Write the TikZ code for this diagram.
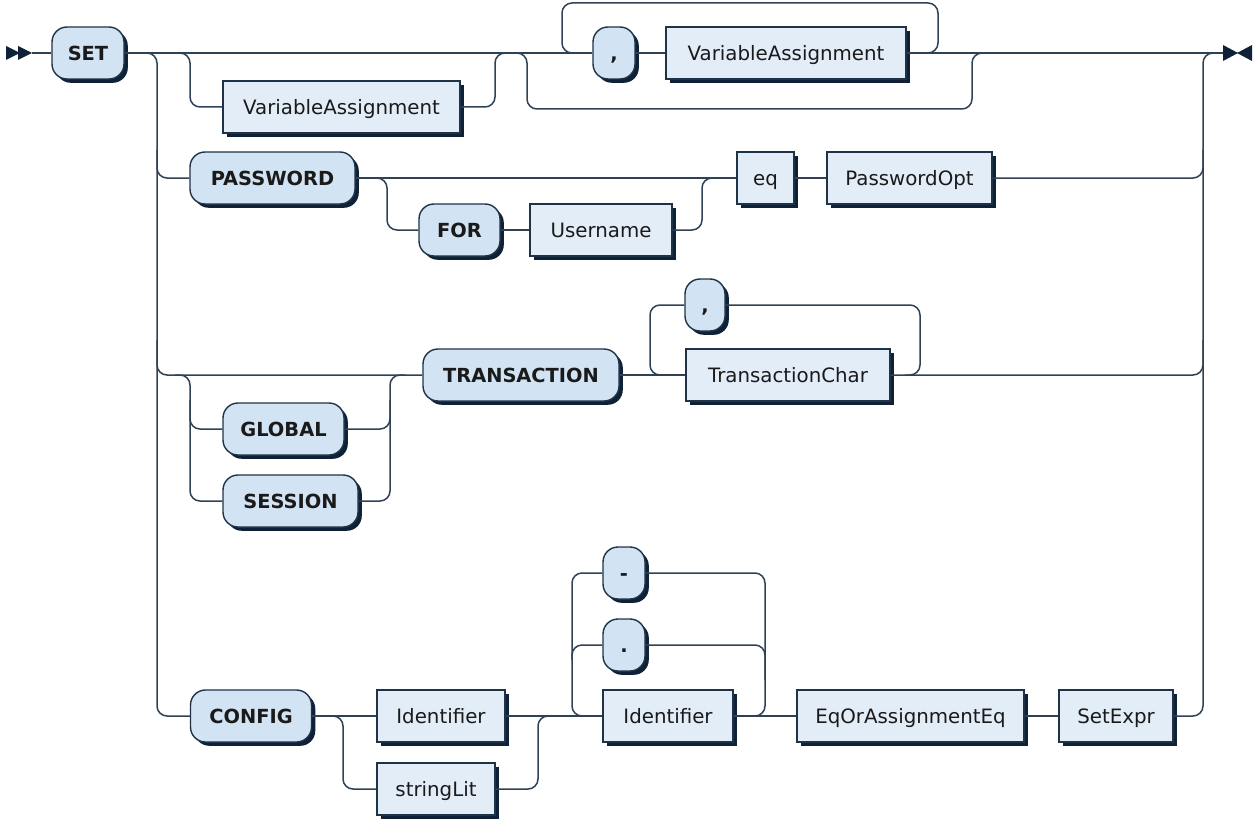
\documentclass[tikz,border=0pt]{standalone}
\usepackage{fontspec}
\setmainfont{DejaVu Sans}
\usetikzlibrary{shadows}
\definecolor{linec}{HTML}{2F4255}
\definecolor{bordc}{HTML}{1F3347}
\definecolor{shadc}{HTML}{0E2136}
\definecolor{tfill}{HTML}{D2E3F4}
\definecolor{nfill}{HTML}{E3EDF7}
\definecolor{txtc}{HTML}{1A1A1A}
\begin{document}
\begin{tikzpicture}[x=1pt,y=-1pt,
  base/.style={draw=bordc, line width=1.4pt, text=txtc, minimum height=52pt, inner sep=0pt,
    text height=19pt, text depth=4.6pt,
    general shadow={shadow xshift=3.8pt, shadow yshift=-3.8pt, fill=shadc}},
  term/.style={base, fill=tfill, rounded corners=15pt, font=\bfseries\fontsize{19.4}{22}\selectfont},
  nterm/.style={base, fill=nfill, font=\fontsize{19.8}{22}\selectfont},
  conn/.style={draw=linec, line width=1.5pt, rounded corners=10pt},
  tip/.style={fill=shadc, draw=none}]
\useasboundingbox (0,0) rectangle (1255,824);
% nodes
\node[term, minimum width=72pt] (set) at (88,53) {SET};
\node[nterm, minimum width=237pt] (va1) at (341.5,107) {VariableAssignment};
\node[term, minimum width=42pt] (c1) at (614,53) {,};
\node[nterm, minimum width=240pt] (va2) at (786,53) {VariableAssignment};
\node[term, minimum width=165pt] (pw) at (272.5,178) {PASSWORD};
\node[term, minimum width=81pt] (for) at (459.5,230) {FOR};
\node[nterm, minimum width=142pt] (user) at (601,230) {Username};
\node[nterm, minimum width=57pt] (eq) at (765.5,178) {eq};
\node[nterm, minimum width=165pt] (pwopt) at (909.5,178) {PasswordOpt};
\node[term, minimum width=121pt] (global) at (283.5,429) {GLOBAL};
\node[term, minimum width=135pt] (session) at (290.5,501) {SESSION};
\node[term, minimum width=196pt] (trans) at (521,375) {TRANSACTION};
\node[term, minimum width=40pt] (c2) at (705,305) {,};
\node[nterm, minimum width=204pt] (tchar) at (788,375) {TransactionChar};
\node[term, minimum width=121pt] (config) at (251,716) {CONFIG};
\node[nterm, minimum width=128pt] (id1) at (441,716) {Identifier};
\node[nterm, minimum width=118pt] (slit) at (436,789) {stringLit};
\node[term, minimum width=42pt] (minus) at (624,573) {-};
\node[term, minimum width=42pt] (dot) at (624,645) {.};
\node[nterm, minimum width=130pt] (id2) at (668,716) {Identifier};
\node[nterm, minimum width=227pt] (eqor) at (910.5,716) {EqOrAssignmentEq};
\node[nterm, minimum width=114pt] (setexpr) at (1116,716) {SetExpr};
% start / end markers
\coordinate (start) at (32,53);
\coordinate (finish) at (1223,53);
\fill[tip] (6,46) -- (20,53) -- (6,60) -- cycle;
\fill[tip] (18,46) -- (32,53) -- (18,60) -- cycle;
\fill[tip] (1223,45) -- (1238,53) -- (1223,61) -- cycle;
\fill[tip] (1252,45) -- (1237,53) -- (1252,61) -- cycle;
% connectors: top row
\draw[conn] (start) -- (set.west);
\draw[conn] (set.east) -- (c1.west);
\draw[conn] (c1.east) -- (va2.west);
\draw[conn] (va2.east) -- (finish);
\draw[conn] (175,53) -| (190,107) -- (va1.west);
\draw[conn] (va1.east) -| (495,53) -- (510,53);
\draw[conn] (512,53) -| (527,109) -| (972,53) -- (990,53);
\draw[conn] (580,53) -| (562,3) -| (938,53) -- (920,53);
% left and right rails
\draw[conn] (140,53) -| (157,716) -- (config.west);
\draw[conn] (setexpr.east) -| (1203,53) -- (1215,53);
% password row
\draw[conn] (157,150) |- (pw.west);
\draw[conn] (pw.east) -- (eq.west);
\draw[conn] (372,178) -| (387,230) -- (for.west);
\draw[conn] (for.east) -- (user.west);
\draw[conn] (user.east) -| (702,178) -- (715,178);
\draw[conn] (eq.east) -- (pwopt.west);
\draw[conn] (pwopt.east) -| (1203,150);
% transaction row
\draw[conn] (157,340) |- (trans.west);
\draw[conn] (175,375) -| (190,501) -- (session.west);
\draw[conn] (190,400) |- (global.west);
\draw[conn] (session.east) -| (390,375) -- (405,375);
\draw[conn] (global.east) -| (390,400);
\draw[conn] (trans.east) -- (tchar.west);
\draw[conn] (665,375) -| (650,305) -- (c2.west);
\draw[conn] (c2.east) -| (920,375) -- (905,375);
\draw[conn] (tchar.east) -| (1203,340);
% config row
\draw[conn] (config.east) -- (id1.west);
\draw[conn] (328,716) -| (343,789) -- (slit.west);
\draw[conn] (slit.east) -| (538,716) -- (555,716);
\draw[conn] (id1.east) -- (id2.west);
\draw[conn] (590,716) -| (572,573) -- (minus.west);
\draw[conn] (572,660) |- (dot.west);
\draw[conn] (minus.east) -| (765,716) -- (750,716);
\draw[conn] (dot.east) -| (765,680);
\draw[conn] (id2.east) -- (eqor.west);
\draw[conn] (eqor.east) -- (setexpr.west);
\end{tikzpicture}
\end{document}
